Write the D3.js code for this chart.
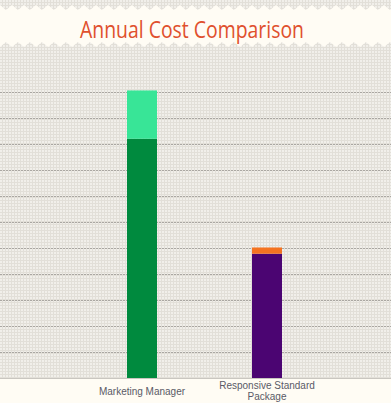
<!DOCTYPE html>
<html><head><meta charset="utf-8">
<script src="https://cdn.jsdelivr.net/npm/d3@7"></script>
<style>
html,body{margin:0;padding:0;background:#fffcf4;}
svg{display:block;}
</style></head>
<body>
<svg id="chart" width="391" height="403"></svg>
<script>
const title = "Annual Cost Comparison";
const categories = ["Marketing Manager", "Responsive Standard Package"];
const baseValues = [46000, 23900];
const extraValues = [9300, 1200];
const baseColors = ["#008a3e", "#4b0572"];
const extraColors = ["#38e597", "#f47321"];
const gridTicks = [0,5000,10000,15000,20000,25000,30000,35000,40000,45000,50000,55000];

(function(){
const svg = d3.select("#chart");
const W = 391, H = 403;
const defs = svg.append("defs");
const pat = defs.append("pattern").attr("id","chk").attr("width",3).attr("height",3).attr("patternUnits","userSpaceOnUse");
pat.append("rect").attr("width",3).attr("height",3).attr("fill","#e2dfd8");
pat.append("rect").attr("width",2).attr("height",2).attr("fill","#f1efea");

svg.append("rect").attr("width",W).attr("height",H).attr("fill","#fffcf4");
svg.append("rect").attr("x",0).attr("y",0).attr("width",W).attr("height",5).attr("fill","url(#chk)");
const plotTop = 47, plotBottom = 378;
svg.append("rect").attr("x",0).attr("y",plotTop).attr("width",W).attr("height",plotBottom-plotTop).attr("fill","url(#chk)");

const period = 12;
let topPath = "", botPath = "";
for (let x = 0; x < W + period; x += period) {
  topPath += `M${x},5 L${x+period},5 L${x+period/2},10 Z `;
  botPath += `M${x},${plotTop} L${x+period},${plotTop} L${x+period/2},${plotTop-5} Z `;
}
svg.append("path").attr("d",topPath).attr("fill","url(#chk)");
svg.append("path").attr("d",botPath).attr("fill","url(#chk)");

svg.append("text").attr("x",192).attr("y",38).attr("text-anchor","middle")
  .attr("font-family","'Open Sans', sans-serif").attr("font-size",24)
  .attr("fill","#e0502d").attr("textLength",224).attr("lengthAdjust","spacingAndGlyphs")
  .text(title);

const y = d3.scaleLinear().domain([0,55000]).range([plotBottom, 92]);
const x = d3.scaleBand().domain(categories).range([79.5, 329.5]).padding(0);
const barW = 30;

svg.append("g").selectAll("line").data(gridTicks.slice(1)).join("line")
  .attr("x1",0).attr("x2",W)
  .attr("y1",d=>Math.round(y(d))+0.5).attr("y2",d=>Math.round(y(d))+0.5)
  .attr("stroke","#aaa7a2").attr("stroke-width",1).attr("stroke-dasharray","2,1");
svg.append("line").attr("x1",0).attr("x2",W).attr("y1",plotBottom+0.5).attr("y2",plotBottom+0.5)
  .attr("stroke","#c9c6c0").attr("stroke-width",1);

const g = svg.append("g");
categories.forEach((c,i)=>{
  const cx = x(c) + x.bandwidth()/2;
  g.append("rect").attr("x",cx-barW/2).attr("width",barW)
    .attr("y",y(baseValues[i])).attr("height",y(0)-y(baseValues[i])).attr("fill",baseColors[i]);
  const tot = baseValues[i]+extraValues[i];
  g.append("rect").attr("x",cx-barW/2).attr("width",barW)
    .attr("y",y(tot)).attr("height",y(baseValues[i])-y(tot)).attr("fill",extraColors[i]);
});

const xAxis = d3.axisBottom(x).tickSize(0).tickPadding(0);
const ax = svg.append("g").attr("transform",`translate(0,${plotBottom})`).call(xAxis);
ax.select(".domain").remove();
ax.selectAll("text").attr("font-family","'Liberation Sans', Arial, sans-serif")
  .attr("font-size",10).attr("fill","#5a5a66").attr("dy",null).attr("y",0)
  .each(function(d){
    const t = d3.select(this); t.text(null);
    const lines = d === "Responsive Standard Package" ? ["Responsive Standard","Package"] : [d];
    const startY = lines.length === 1 ? 17 : 11;
    lines.forEach((ln,k)=>{
      t.append("tspan").attr("x",0).attr("y",startY + k*11).text(ln);
    });
  });
})();
</script>
</body></html>
